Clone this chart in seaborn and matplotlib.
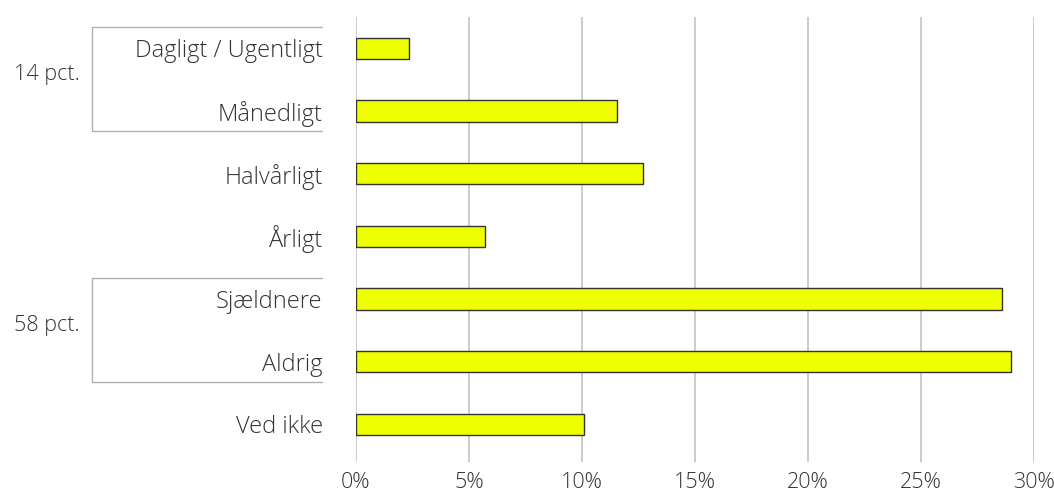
import matplotlib
matplotlib.use("Agg")
import matplotlib.pyplot as plt
import matplotlib.transforms as mtransforms
import seaborn as sns
import pandas as pd

categories = ["Dagligt / Ugentligt", "Månedligt", "Halvårligt", "Årligt",
              "Sjældnere", "Aldrig", "Ved ikke"]
values = [2.33, 11.53, 12.7, 5.7, 28.6, 29.0, 10.1]
xticks = [0, 5, 10, 15, 20, 25, 30]
xtick_labels = ["0%", "5%", "10%", "15%", "20%", "25%", "30%"]
group_labels = ["14 pct.", "58 pct."]
group_spans = [(0, 1), (4, 5)]

sns.set_style("white")
plt.rcParams['font.family'] = ['Open Sans', 'DejaVu Sans']
plt.rcParams['font.weight'] = 'light'

df = pd.DataFrame({"kategori": categories, "andel": values})

fig = plt.figure(figsize=(10.54, 4.97), dpi=100)
ax = fig.add_axes([356/1054, 1-462/497, (1034-356)/1054, (462-17)/497])

sns.barplot(data=df, x="andel", y="kategori", orient="h", ax=ax,
            color="#EEFF00", edgecolor="#333333", linewidth=1.0,
            width=0.34, saturation=1, zorder=3)

ax.set_xlim(0, 30)
ax.set_ylim(6.6, -0.5)
ax.set_xticks(xticks)
ax.set_xticklabels(xtick_labels)
ax.set_xlabel("")
ax.set_ylabel("")
for s in ax.spines.values():
    s.set_visible(False)
ax.xaxis.grid(True, color="#c4c4c4", linewidth=1.2, zorder=0)
ax.yaxis.grid(False)
ax.set_axisbelow(True)
ax.tick_params(axis="y", length=0, pad=24, labelsize=17, labelcolor="#333333")
ax.tick_params(axis="x", length=0, pad=7, labelsize=15.5, labelcolor="#333333")

trans = mtransforms.blended_transform_factory(fig.transFigure, ax.transData)
x0, x1 = 92/1054, 322/1054
for (a, b), lab in zip(group_spans, group_labels):
    top, bot = a - 0.34, b + 0.32
    ax.plot([x1, x0, x0, x1], [top, top, bot, bot], transform=trans,
            color="#b0b0b0", linewidth=1.0, clip_on=False)
    ax.text(80/1054, (top + bot) / 2 - 0.07, lab, transform=trans,
            ha="right", va="center", fontsize=15.5, color="#333333")

fig.savefig("out.png", dpi=100)
